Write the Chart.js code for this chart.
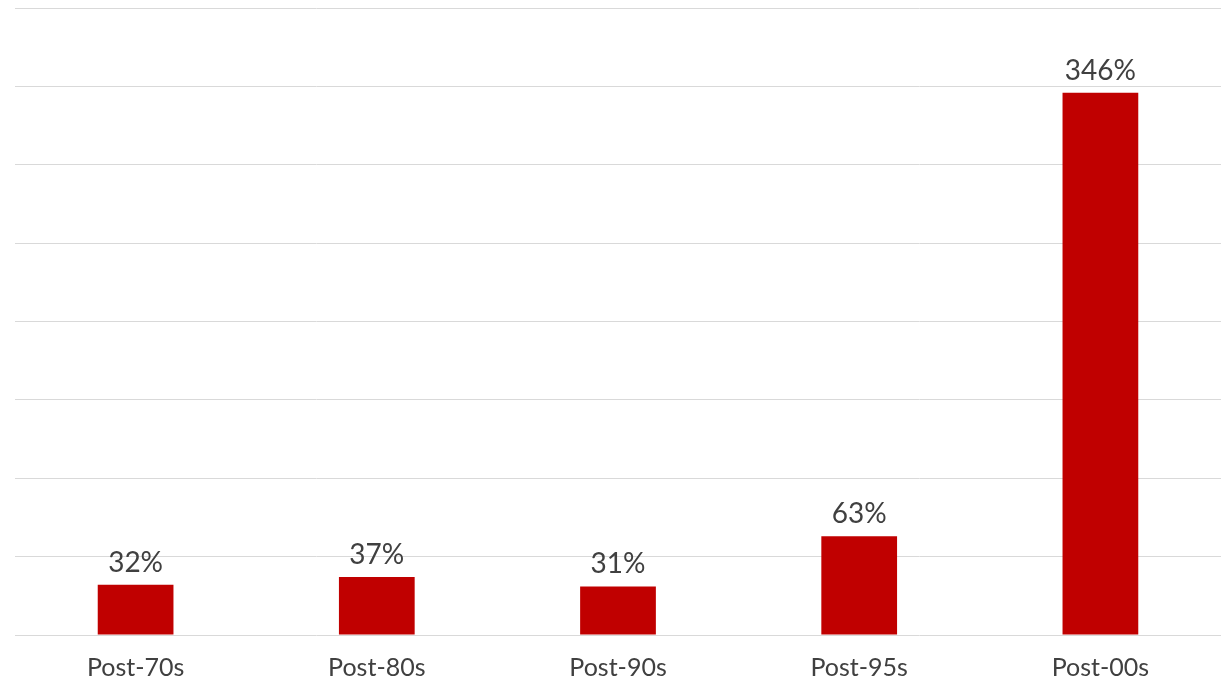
<!DOCTYPE html>
<html>
<head>
<meta charset="utf-8">
<script src="https://cdn.jsdelivr.net/npm/chart.js@4"></script>
<style>
  html, body { margin: 0; padding: 0; background: #fff; }
  #wrap { width: 1221px; height: 685px; }
</style>
</head>
<body>
<div id="wrap"><canvas id="chartGeneraciones"></canvas></div>
<script>
const generaciones = ["Post-70s", "Post-80s", "Post-90s", "Post-95s", "Post-00s"];
const crecimiento = [32, 37, 31, 63, 346];
const ejeMax = 400;
const ejePaso = 50;

const FUENTE = "'Century Gothic', Lato, sans-serif";
const TEXTO = "#404040";

// etiquetas de valor encima de cada barra
const etiquetasValor = {
  id: "etiquetasValor",
  afterDatasetsDraw(chart) {
    const { ctx } = chart;
    const meta = chart.getDatasetMeta(0);
    ctx.save();
    ctx.font = "28px " + FUENTE;
    ctx.fillStyle = TEXTO;
    ctx.textAlign = "center";
    ctx.textBaseline = "alphabetic";
    meta.data.forEach((bar, i) => {
      ctx.fillText(crecimiento[i] + "%", bar.x, bar.y - 13);
    });
    ctx.restore();
  }
};

new Chart(document.getElementById("chartGeneraciones"), {
  type: "bar",
  data: {
    labels: generaciones,
    datasets: [{
      data: crecimiento,
      backgroundColor: "#c00000",
      categoryPercentage: 1,
      barPercentage: 0.314
    }]
  },
  options: {
    responsive: true,
    maintainAspectRatio: false,
    animation: false,
    layout: { padding: { left: 15, right: 0, top: 8, bottom: 0 } },
    plugins: {
      legend: { display: false },
      tooltip: { enabled: false }
    },
    scales: {
      x: {
        grid: { display: false },
        border: { display: false },
        ticks: {
          color: TEXTO,
          font: { family: FUENTE, size: 25 },
          padding: 10
        },
        afterFit(scale) { scale.height = 50; }
      },
      y: {
        min: 0,
        max: ejeMax,
        ticks: { display: false, stepSize: ejePaso },
        grid: { color: "#d9d9d9", lineWidth: 1, drawTicks: false },
        border: { display: false }
      }
    }
  },
  plugins: [etiquetasValor]
});
</script>
</body>
</html>
